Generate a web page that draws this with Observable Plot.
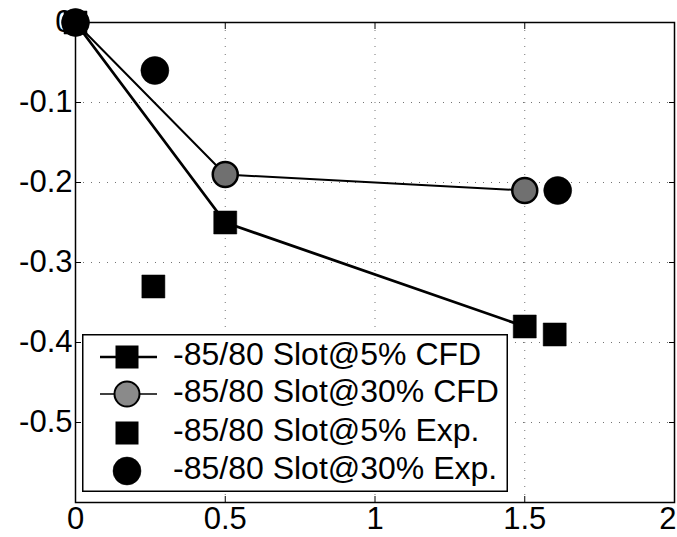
<!DOCTYPE html>
<html>
<head>
<meta charset="utf-8">
<script src="https://cdn.jsdelivr.net/npm/d3@7"></script>
<script src="https://cdn.jsdelivr.net/npm/@observablehq/plot@0.6"></script>
<style>
  html, body { margin: 0; padding: 0; background: #fff; }
  #wrap { position: relative; width: 677px; height: 537px; overflow: hidden; }
  #legend { position: absolute; left: 82px; top: 334px; }
</style>
</head>
<body>
<div id="wrap"></div>
<script>
// ---- data ----
const xTicks = [0, 0.5, 1, 1.5];
const xLastTick = [2];
const xAllTicks = [0, 0.5, 1, 1.5, 2];
const yTicks = [0, -0.1, -0.2, -0.3, -0.4, -0.5];
const yGrid = [-0.1, -0.2, -0.3, -0.4, -0.5];
const xGrid = [0.5, 1, 1.5];

const cfd5X = [0, 0.5, 1.5];
const cfd5Y = [0, -0.25, -0.38];
const cfd30X = [0, 0.5, 1.5];
const cfd30Y = [0, -0.19, -0.21];
const exp5X = [0.26, 1.6];
const exp5Y = [-0.33, -0.39];
const exp30X = [0, 0.265, 1.61];
const exp30Y = [0, -0.06, -0.21];

const legendLabels = [
  "-85/80 Slot@5% CFD",
  "-85/80 Slot@30% CFD",
  "-85/80 Slot@5% Exp.",
  "-85/80 Slot@30% Exp."
];

const toPts = (xs, ys) => xs.map((x, i) => ({x, y: ys[i]}));
const cfd5 = toPts(cfd5X, cfd5Y);
const cfd30 = toPts(cfd30X, cfd30Y);
const exp5 = toPts(exp5X, exp5Y);
const exp30 = toPts(exp30X, exp30Y);

const FONT = "'Liberation Sans', Arial, Helvetica, sans-serif";
const GRAY = "#707070";

const chart = Plot.plot({
  width: 677,
  height: 537,
  marginLeft: 75,
  marginRight: 3,
  marginTop: 22,
  marginBottom: 35,
  style: {fontFamily: FONT, fontSize: "30px", background: "#fff", overflow: "visible"},
  x: {domain: [0, 2]},
  y: {domain: [-0.6, 0]},
  marks: [
    Plot.ruleY(yGrid, {stroke: "#000", strokeOpacity: 0.55, strokeDasharray: "1,7"}),
    Plot.ruleX(xGrid, {stroke: "#000", strokeOpacity: 0.55, strokeDasharray: "1,7"}),
    Plot.frame({stroke: "#000", strokeWidth: 1.5}),
    Plot.axisX({anchor: "bottom", ticks: xTicks, tickSize: 0, tickPadding: 4, tickFormat: d => String(d), label: null, fontSize: 31}),
    Plot.axisX({anchor: "bottom", ticks: xLastTick, tickSize: 0, tickPadding: 4, tickFormat: d => String(d), label: null, textAnchor: "end", dx: 2, fontSize: 31}),
    Plot.axisY({anchor: "left", ticks: yTicks, tickSize: 0, tickPadding: 3, tickFormat: d => String(d), label: null, fontSize: 31}),
    Plot.axisX({anchor: "bottom", ticks: xAllTicks, tickSize: -6, text: null, label: null}),
    Plot.axisX({anchor: "top", ticks: xAllTicks, tickSize: -6, text: null, label: null}),
    Plot.axisY({anchor: "left", ticks: yTicks, tickSize: -6, text: null, label: null}),
    Plot.axisY({anchor: "right", ticks: yTicks, tickSize: -6, text: null, label: null}),
    Plot.line(cfd5, {x: "x", y: "y", stroke: "#000", strokeWidth: 2.8}),
    Plot.line(cfd30, {x: "x", y: "y", stroke: "#000", strokeWidth: 2}),
    Plot.dot(cfd5, {x: "x", y: "y", symbol: "square", r: 13, fill: "#000", stroke: "#000", strokeWidth: 0.5}),
    Plot.dot(cfd30, {x: "x", y: "y", symbol: "circle", r: 12.5, fill: GRAY, stroke: "#000", strokeWidth: 2.5}),
    Plot.dot(exp5, {x: "x", y: "y", symbol: "square", r: 13, fill: "#000", stroke: "#000", strokeWidth: 0.5}),
    Plot.dot(exp30, {x: "x", y: "y", symbol: "circle", r: 14, fill: "#000", stroke: "#000", strokeWidth: 0.5})
  ]
});

d3.select(chart).selectAll("text")
  .style("font-family", FONT)
  .attr("fill", "#000");

const wrap = document.getElementById("wrap");
wrap.appendChild(chart);

// ---- legend ----
const lw = 426, lh = 158;
const rowsY = [23, 60, 99, 137];
const styles = [
  {sym: "square", fill: "#000", line: true, lw: 2.5},
  {sym: "circle", fill: "#8a8a8a", line: true, lw: 1.5},
  {sym: "square", fill: "#000", line: false},
  {sym: "circle", fill: "#000", line: false}
];
const lg = d3.create("svg").attr("id", "legend").attr("width", lw).attr("height", lh);
lg.append("rect").attr("x", 0.75).attr("y", 0.75).attr("width", lw - 1.5).attr("height", lh - 1.5)
  .attr("fill", "#fff").attr("stroke", "#000").attr("stroke-width", 1.5);
const mx = 45;
legendLabels.forEach((label, i) => {
  const s = styles[i], y = rowsY[i];
  const g = lg.append("g");
  if (s.line) g.append("line").attr("x1", 18).attr("x2", 75).attr("y1", y).attr("y2", y)
    .attr("stroke", "#000").attr("stroke-width", s.lw);
  if (s.sym === "square") {
    g.append("rect").attr("x", mx - 11.5).attr("y", y - 11.5).attr("width", 23).attr("height", 23).attr("fill", s.fill);
  } else {
    g.append("circle").attr("cx", mx).attr("cy", y).attr("r", i === 1 ? 12.5 : 14)
      .attr("fill", s.fill).attr("stroke", "#000").attr("stroke-width", i === 1 ? 2 : 0.5);
  }
  g.append("text").attr("x", 91).attr("y", y + 8)
    .attr("font-family", FONT).attr("font-size", 32).attr("fill", "#000").text(label);
});
wrap.appendChild(lg.node());
</script>
</body>
</html>
